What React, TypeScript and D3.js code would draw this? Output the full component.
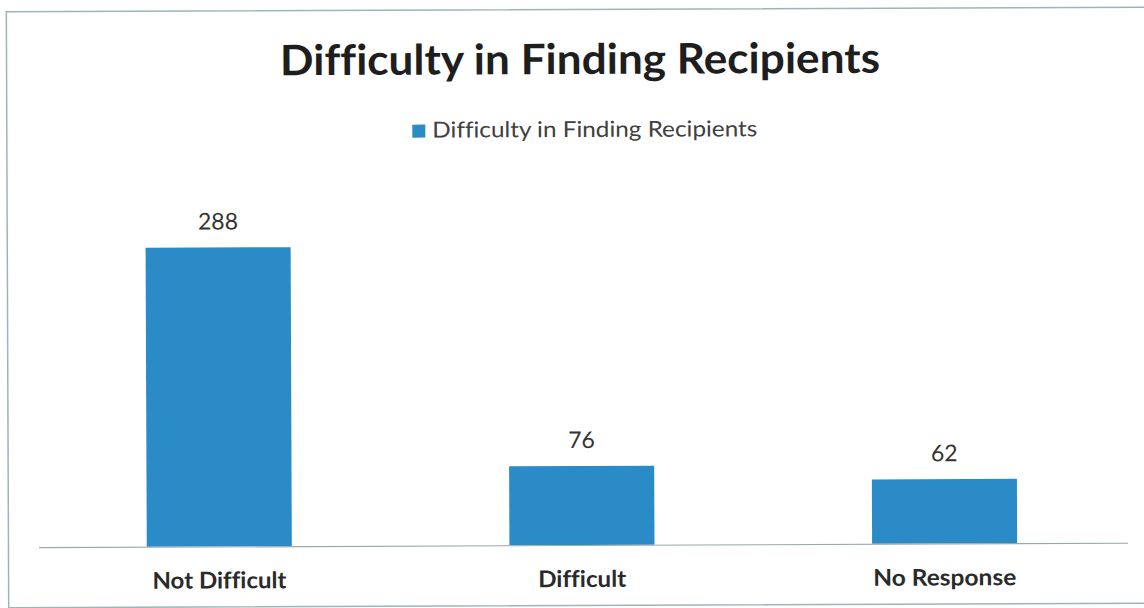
import React from "react";
import * as d3 from "d3";

const categories: string[] = ["Not Difficult", "Difficult", "No Response"];
const values: number[] = [288, 76, 62];
const seriesName = "Difficulty in Finding Recipients";
const chartTitle = "Difficulty in Finding Recipients";

const W = 1144;
const H = 608;
const BAR = "#2a8bc7";
const FONT = "Lato, 'Open Sans', sans-serif";
const noLig = { fontVariantLigatures: "none" as const };

// rendered widths for the text runs, so they keep the Calibri-like proportions
const catWidths: number[] = [134, 88, 143];

export default function App() {
  const x = d3
    .scaleBand<string>()
    .domain(categories)
    .range([37, 1125])
    .paddingInner(0.6)
    .paddingOuter(0.3);
  const y = d3.scaleLinear().domain([0, 288]).range([545, 246]);

  return (
    <svg
      width={W}
      height={H}
      style={{ position: "absolute", left: 0, top: 0, display: "block", background: "#fff" }}
    >
      <g transform={`rotate(-0.23 ${W / 2} ${H / 2})`}>
        {/* chart frame */}
        <rect x={7.5} y={9.5} width={1170} height={596} fill="#fff" stroke="#9db5b6" strokeWidth={1.5} />

        <text
          x={581}
          y={74}
          textAnchor="middle"
          fontFamily={FONT}
          fontWeight={700}
          fontSize={42}
          fill="#1e1e1e"
          style={noLig}
          textLength={600}
          lengthAdjust="spacingAndGlyphs"
        >
          {chartTitle}
        </text>

        {/* legend */}
        <rect x={413} y={124} width={13} height={13} fill={BAR} />
        <text
          x={433}
          y={137}
          fontFamily={FONT}
          fontSize={22}
          fill="#404040"
          style={noLig}
          textLength={325}
          lengthAdjust="spacingAndGlyphs"
        >
          {seriesName}
        </text>

        {/* bars */}
        {categories.map((c, i) => (
          <rect
            key={c}
            x={x(c)}
            y={y(values[i])}
            width={x.bandwidth()}
            height={y(0) - y(values[i])}
            fill={BAR}
          />
        ))}

        {/* value labels */}
        {categories.map((c, i) => (
          <text
            key={c + "-v"}
            x={(x(c) as number) + x.bandwidth() / 2}
            y={y(values[i]) - 18}
            textAnchor="middle"
            fontFamily={FONT}
            fontSize={23}
            fill="#333"
          >
            {values[i]}
          </text>
        ))}

        {/* baseline */}
        <line x1={38} x2={1127} y1={545.5} y2={545.5} stroke="#9aa8ab" strokeWidth={1.2} />

        {/* category labels */}
        {categories.map((c, i) => (
          <text
            key={c + "-c"}
            x={(x(c) as number) + x.bandwidth() / 2}
            y={587}
            textAnchor="middle"
            fontFamily={FONT}
            fontWeight={700}
            fontSize={23}
            fill="#2a2a2a"
            style={noLig}
            textLength={catWidths[i]}
            lengthAdjust="spacingAndGlyphs"
          >
            {c}
          </text>
        ))}
      </g>
    </svg>
  );
}
